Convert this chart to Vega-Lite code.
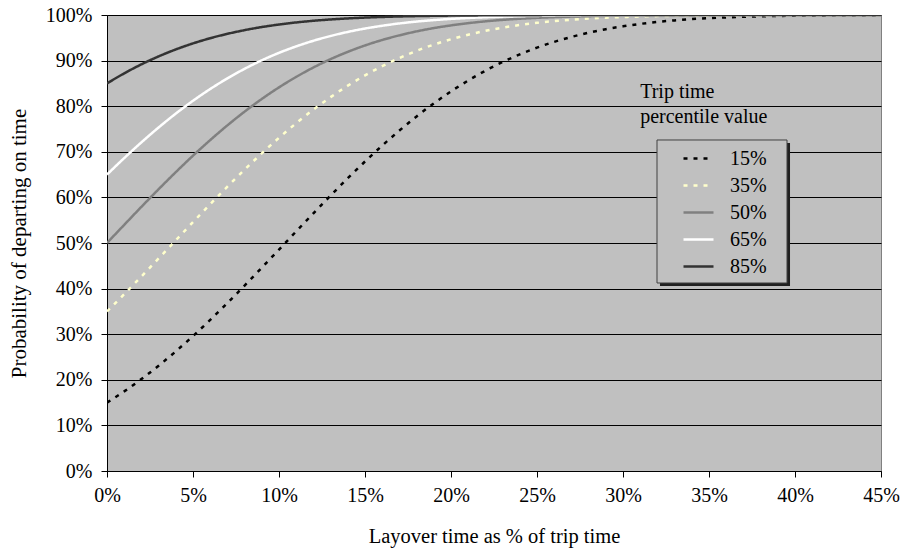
{
  "$schema": "https://vega.github.io/schema/vega-lite/v6.json",
  "width": 774,
  "height": 456,
  "autosize": "none",
  "padding": {"left": 107, "top": 15, "right": 24, "bottom": 80},
  "background": "white",
  "config": {
    "font": "Liberation Serif",
    "view": {"fill": "#C0C0C0", "stroke": "#808080", "strokeWidth": 1},
    "axis": {
      "labelFont": "Liberation Serif",
      "titleFont": "Liberation Serif",
      "labelFontSize": 20,
      "titleFontSize": 20.5,
      "titleFontWeight": "normal",
      "labelColor": "black",
      "titleColor": "black",
      "domainColor": "black",
      "tickColor": "black",
      "tickSize": 6,
      "gridColor": "black",
      "gridOpacity": 1,
      "gridWidth": 1,
      "labelFlush": false
    },
    "legend": {
      "labelFont": "Liberation Serif",
      "labelFontSize": 20,
      "labelColor": "black"
    }
  },
  "datasets": {
    "curves": [
      {"L":0,"s":"15%","p":0.150},{"L":1,"s":"15%","p":0.1746},{"L":2,"s":"15%","p":0.2016},{"L":3,"s":"15%","p":0.2309},{"L":4,"s":"15%","p":0.2624},{"L":5,"s":"15%","p":0.2960},{"L":6,"s":"15%","p":0.3314},{"L":7,"s":"15%","p":0.3684},{"L":8,"s":"15%","p":0.4067},{"L":9,"s":"15%","p":0.4459},{"L":10,"s":"15%","p":0.4856},{"L":11,"s":"15%","p":0.5255},{"L":12,"s":"15%","p":0.5651},{"L":13,"s":"15%","p":0.6041},{"L":14,"s":"15%","p":0.6421},{"L":15,"s":"15%","p":0.6787},{"L":16,"s":"15%","p":0.7136},{"L":17,"s":"15%","p":0.7466},{"L":18,"s":"15%","p":0.7776},{"L":19,"s":"15%","p":0.8062},{"L":20,"s":"15%","p":0.8325},{"L":21,"s":"15%","p":0.8563},{"L":22,"s":"15%","p":0.8778},{"L":23,"s":"15%","p":0.8969},{"L":24,"s":"15%","p":0.9137},{"L":25,"s":"15%","p":0.9284},{"L":26,"s":"15%","p":0.9411},{"L":27,"s":"15%","p":0.9519},{"L":28,"s":"15%","p":0.9611},{"L":29,"s":"15%","p":0.9688},{"L":30,"s":"15%","p":0.9752},{"L":31,"s":"15%","p":0.9805},{"L":32,"s":"15%","p":0.9848},{"L":33,"s":"15%","p":0.9882},{"L":34,"s":"15%","p":0.9910},{"L":35,"s":"15%","p":0.9931},{"L":36,"s":"15%","p":0.9948},{"L":37,"s":"15%","p":0.9961},{"L":38,"s":"15%","p":0.9971},{"L":39,"s":"15%","p":0.9979},{"L":40,"s":"15%","p":0.9985},{"L":41,"s":"15%","p":0.9989},{"L":42,"s":"15%","p":0.9992},{"L":43,"s":"15%","p":0.9995},{"L":44,"s":"15%","p":0.9996},{"L":45,"s":"15%","p":0.9997},
      {"L":0,"s":"35%","p":0.350},{"L":1,"s":"35%","p":0.3878},{"L":2,"s":"35%","p":0.4266},{"L":3,"s":"35%","p":0.4661},{"L":4,"s":"35%","p":0.5060},{"L":5,"s":"35%","p":0.5458},{"L":6,"s":"35%","p":0.5851},{"L":7,"s":"35%","p":0.6236},{"L":8,"s":"35%","p":0.6609},{"L":9,"s":"35%","p":0.6967},{"L":10,"s":"35%","p":0.7307},{"L":11,"s":"35%","p":0.7627},{"L":12,"s":"35%","p":0.7925},{"L":13,"s":"35%","p":0.8199},{"L":14,"s":"35%","p":0.8450},{"L":15,"s":"35%","p":0.8676},{"L":16,"s":"35%","p":0.8878},{"L":17,"s":"35%","p":0.9057},{"L":18,"s":"35%","p":0.9215},{"L":19,"s":"35%","p":0.9351},{"L":20,"s":"35%","p":0.9468},{"L":21,"s":"35%","p":0.9568},{"L":22,"s":"35%","p":0.9652},{"L":23,"s":"35%","p":0.9723},{"L":24,"s":"35%","p":0.9781},{"L":25,"s":"35%","p":0.9828},{"L":26,"s":"35%","p":0.9866},{"L":27,"s":"35%","p":0.9897},{"L":28,"s":"35%","p":0.9921},{"L":29,"s":"35%","p":0.9940},{"L":30,"s":"35%","p":0.9955},{"L":31,"s":"35%","p":0.9967},{"L":32,"s":"35%","p":0.9976},{"L":33,"s":"35%","p":0.9982},{"L":34,"s":"35%","p":0.9987},{"L":35,"s":"35%","p":0.9991},{"L":36,"s":"35%","p":0.9994},{"L":37,"s":"35%","p":0.9996},{"L":38,"s":"35%","p":0.9997},{"L":39,"s":"35%","p":0.9998},{"L":40,"s":"35%","p":0.9999},{"L":41,"s":"35%","p":0.9999},{"L":42,"s":"35%","p":1.0},{"L":43,"s":"35%","p":1.0},{"L":44,"s":"35%","p":1.0},{"L":45,"s":"35%","p":1.0},
      {"L":0,"s":"50%","p":0.500},{"L":1,"s":"50%","p":0.5398},{"L":2,"s":"50%","p":0.5793},{"L":3,"s":"50%","p":0.6179},{"L":4,"s":"50%","p":0.6554},{"L":5,"s":"50%","p":0.6915},{"L":6,"s":"50%","p":0.7257},{"L":7,"s":"50%","p":0.7580},{"L":8,"s":"50%","p":0.7881},{"L":9,"s":"50%","p":0.8159},{"L":10,"s":"50%","p":0.8413},{"L":11,"s":"50%","p":0.8643},{"L":12,"s":"50%","p":0.8849},{"L":13,"s":"50%","p":0.9032},{"L":14,"s":"50%","p":0.9192},{"L":15,"s":"50%","p":0.9332},{"L":16,"s":"50%","p":0.9452},{"L":17,"s":"50%","p":0.9554},{"L":18,"s":"50%","p":0.9641},{"L":19,"s":"50%","p":0.9713},{"L":20,"s":"50%","p":0.9772},{"L":21,"s":"50%","p":0.9821},{"L":22,"s":"50%","p":0.9861},{"L":23,"s":"50%","p":0.9893},{"L":24,"s":"50%","p":0.9918},{"L":25,"s":"50%","p":0.9938},{"L":26,"s":"50%","p":0.9953},{"L":27,"s":"50%","p":0.9965},{"L":28,"s":"50%","p":0.9974},{"L":29,"s":"50%","p":0.9981},{"L":30,"s":"50%","p":0.9987},{"L":31,"s":"50%","p":0.9990},{"L":32,"s":"50%","p":0.9993},{"L":33,"s":"50%","p":0.9995},{"L":34,"s":"50%","p":0.9997},{"L":35,"s":"50%","p":0.9998},{"L":36,"s":"50%","p":0.9998},{"L":37,"s":"50%","p":0.9999},{"L":38,"s":"50%","p":0.9999},{"L":39,"s":"50%","p":1.0},{"L":40,"s":"50%","p":1.0},{"L":41,"s":"50%","p":1.0},{"L":42,"s":"50%","p":1.0},{"L":43,"s":"50%","p":1.0},{"L":44,"s":"50%","p":1.0},{"L":45,"s":"50%","p":1.0},
      {"L":0,"s":"65%","p":0.650},{"L":1,"s":"65%","p":0.6862},{"L":2,"s":"65%","p":0.7207},{"L":3,"s":"65%","p":0.7533},{"L":4,"s":"65%","p":0.7838},{"L":5,"s":"65%","p":0.8119},{"L":6,"s":"65%","p":0.8377},{"L":7,"s":"65%","p":0.8610},{"L":8,"s":"65%","p":0.8820},{"L":9,"s":"65%","p":0.9006},{"L":10,"s":"65%","p":0.9170},{"L":11,"s":"65%","p":0.9312},{"L":12,"s":"65%","p":0.9435},{"L":13,"s":"65%","p":0.9540},{"L":14,"s":"65%","p":0.9629},{"L":15,"s":"65%","p":0.9703},{"L":16,"s":"65%","p":0.9764},{"L":17,"s":"65%","p":0.9815},{"L":18,"s":"65%","p":0.9856},{"L":19,"s":"65%","p":0.9888},{"L":20,"s":"65%","p":0.9915},{"L":21,"s":"65%","p":0.9935},{"L":22,"s":"65%","p":0.9951},{"L":23,"s":"65%","p":0.9964},{"L":24,"s":"65%","p":0.9973},{"L":25,"s":"65%","p":0.9980},{"L":26,"s":"65%","p":0.9986},{"L":27,"s":"65%","p":0.9990},{"L":28,"s":"65%","p":0.9993},{"L":29,"s":"65%","p":0.9995},{"L":30,"s":"65%","p":0.9996},{"L":31,"s":"65%","p":0.9997},{"L":32,"s":"65%","p":0.9998},{"L":33,"s":"65%","p":0.9999},{"L":34,"s":"65%","p":0.9999},{"L":35,"s":"65%","p":1.0},{"L":36,"s":"65%","p":1.0},{"L":37,"s":"65%","p":1.0},{"L":38,"s":"65%","p":1.0},{"L":39,"s":"65%","p":1.0},{"L":40,"s":"65%","p":1.0},{"L":41,"s":"65%","p":1.0},{"L":42,"s":"65%","p":1.0},{"L":43,"s":"65%","p":1.0},{"L":44,"s":"65%","p":1.0},{"L":45,"s":"65%","p":1.0},
      {"L":0,"s":"85%","p":0.850},{"L":1,"s":"85%","p":0.8720},{"L":2,"s":"85%","p":0.8918},{"L":3,"s":"85%","p":0.9092},{"L":4,"s":"85%","p":0.9245},{"L":5,"s":"85%","p":0.9377},{"L":6,"s":"85%","p":0.9491},{"L":7,"s":"85%","p":0.9587},{"L":8,"s":"85%","p":0.9668},{"L":9,"s":"85%","p":0.9736},{"L":10,"s":"85%","p":0.9791},{"L":11,"s":"85%","p":0.9837},{"L":12,"s":"85%","p":0.9873},{"L":13,"s":"85%","p":0.9902},{"L":14,"s":"85%","p":0.9925},{"L":15,"s":"85%","p":0.9943},{"L":16,"s":"85%","p":0.9957},{"L":17,"s":"85%","p":0.9968},{"L":18,"s":"85%","p":0.9976},{"L":19,"s":"85%","p":0.9982},{"L":20,"s":"85%","p":0.9987},{"L":21,"s":"85%","p":0.9990},{"L":22,"s":"85%","p":0.9993},{"L":23,"s":"85%","p":0.9995},{"L":24,"s":"85%","p":0.9996},{"L":25,"s":"85%","p":0.9997},{"L":26,"s":"85%","p":0.9998},{"L":27,"s":"85%","p":0.9999},{"L":28,"s":"85%","p":0.9999},{"L":29,"s":"85%","p":1.0},{"L":30,"s":"85%","p":1.0},{"L":31,"s":"85%","p":1.0},{"L":32,"s":"85%","p":1.0},{"L":33,"s":"85%","p":1.0},{"L":34,"s":"85%","p":1.0},{"L":35,"s":"85%","p":1.0},{"L":36,"s":"85%","p":1.0},{"L":37,"s":"85%","p":1.0},{"L":38,"s":"85%","p":1.0},{"L":39,"s":"85%","p":1.0},{"L":40,"s":"85%","p":1.0},{"L":41,"s":"85%","p":1.0},{"L":42,"s":"85%","p":1.0},{"L":43,"s":"85%","p":1.0},{"L":44,"s":"85%","p":1.0},{"L":45,"s":"85%","p":1.0}
    ]
  },
  "layer": [
    {
      "data": {"values": [{}]},
      "mark": {"type": "rect", "color": "#202020"},
      "encoding": {
        "x": {"datum": 32.15},
        "x2": {"datum": 39.71},
        "y": {"datum": 0.7193},
        "y2": {"datum": 0.4057}
      }
    },
    {
      "data": {"values": [{}]},
      "mark": {"type": "rect", "fill": "#C0C0C0", "stroke": "#404040", "strokeWidth": 1},
      "encoding": {
        "x": {"datum": 31.977},
        "x2": {"datum": 39.535},
        "y": {"datum": 0.7259},
        "y2": {"datum": 0.4123}
      }
    },
    {
      "data": {"name": "curves"},
      "mark": {"type": "line", "interpolate": "monotone", "strokeWidth": 2.5, "clip": true},
      "encoding": {
        "x": {
          "field": "L", "type": "quantitative",
          "scale": {"domain": [0, 45], "nice": false},
          "axis": {
            "values": [0, 5, 10, 15, 20, 25, 30, 35, 40, 45],
            "labelExpr": "datum.value + '%'",
            "grid": false,
            "labelPadding": 8,
            "title": "Layover time as % of trip time",
            "titlePadding": 21
          }
        },
        "y": {
          "field": "p", "type": "quantitative",
          "scale": {"domain": [0, 1], "nice": false},
          "axis": {
            "values": [0, 0.1, 0.2, 0.3, 0.4, 0.5, 0.6, 0.7, 0.8, 0.9, 1],
            "format": ".0%",
            "grid": true,
            "labelPadding": 9,
            "title": "Probability of departing on time",
            "titleFontSize": 21,
            "titlePadding": 16
          }
        },
        "color": {
          "field": "s", "type": "nominal",
          "scale": {"domain": ["15%", "35%", "50%", "65%", "85%"], "range": ["#000000", "#FFFFCC", "#808080", "#FFFFFF", "#333333"]},
          "legend": {
            "title": null,
            "orient": "none",
            "legendX": 550,
            "legendY": 125,
            "padding": 2,
            "symbolType": "stroke",
            "symbolSize": 900,
            "symbolStrokeWidth": 2.5,
            "symbolOffset": 23,
            "labelOffset": 15,
            "rowPadding": -5
          }
        },
        "strokeDash": {
          "field": "s", "type": "nominal",
          "scale": {"domain": ["15%", "35%", "50%", "65%", "85%"], "range": [[4, 6], [4, 6], [1, 0], [1, 0], [1, 0]]},
          "legend": null
        }
      }
    },
    {
      "data": {"values": [{}]},
      "mark": {"type": "text", "text": ["Trip time", "percentile value"], "align": "left", "baseline": "alphabetic", "fontSize": 20, "font": "Liberation Serif", "lineHeight": 25, "color": "black"},
      "encoding": {
        "x": {"datum": 31.0},
        "y": {"datum": 0.818}
      }
    }
  ]
}
